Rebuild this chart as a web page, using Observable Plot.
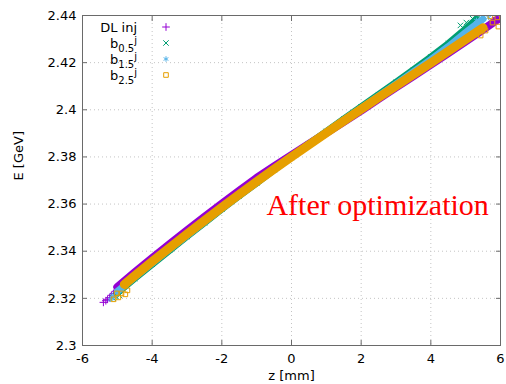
<!DOCTYPE html>
<html><head><meta charset="utf-8">
<script src="https://cdn.jsdelivr.net/npm/d3@7"></script>
<script src="https://cdn.jsdelivr.net/npm/@observablehq/plot@0.6"></script>
<style>body{margin:0;background:#fff;} #chart svg{display:block;}</style>
</head><body><div id="chart"></div><script>
// ---- data ----
const xTicks = [-6, -4, -2, 0, 2, 4, 6];
const xTickLabels = ["-6", "-4", "-2", "0", "2", "4", "6"];
const yTicks = [2.3, 2.32, 2.34, 2.36, 2.38, 2.4, 2.42, 2.44];
const yTickLabels = ["2.3", "2.32", "2.34", "2.36", "2.38", "2.4", "2.42", "2.44"];
const seriesNames = ["DL inj", "b0.5j", "b1.5j", "b2.5j"];
const seriesColors = ["#9400d3", "#009e73", "#56b4e9", "#e69f00"];
const seriesSymbols = ["plus", "times", "asterisk", "square"];

// band centre lines (z [mm], E [GeV])
const dlZ = [-5.0,-4.5,-4.0,-3.5,-3.0,-2.5,-2.0,-1.5,-1.0,-0.5,0,0.5,1,1.5,2,2.5,3,3.5,4,4.5,5,5.5,5.9];
const dlE = [2.3248,2.3310,2.3371,2.3430,2.3488,2.3546,2.3602,2.3657,2.3711,2.3760,2.3808,2.3855,2.3902,2.3949,2.3996,2.4046,2.4095,2.4143,2.4191,2.4240,2.4290,2.4340,2.4381];
const b05Z = [-5.0,-4.5,-4.0,-3.5,-3.0,-2.5,-2.0,-1.5,-1.0,-0.5,0,0.5,1,1.5,2,2.5,3,3.5,4,4.5,5,5.3];
const b05E = [2.3224,2.3285,2.3345,2.3404,2.3463,2.3521,2.3579,2.3635,2.3690,2.3746,2.3800,2.3854,2.3908,2.3960,2.4012,2.4064,2.4116,2.4170,2.4224,2.4280,2.4343,2.4383];
const b15Z = [-5.0,-4.5,-4.0,-3.5,-3.0,-2.5,-2.0,-1.5,-1.0,-0.5,0,0.5,1,1.5,2,2.5,3,3.5,4,4.5,5,5.5];
const b15E = [2.3229,2.3290,2.3350,2.3409,2.3467,2.3525,2.3582,2.3638,2.3693,2.3747,2.3800,2.3853,2.3905,2.3956,2.4007,2.4058,2.4109,2.4161,2.4213,2.4268,2.4328,2.4385];
const b25Z = [-4.8,-4.5,-4.0,-3.5,-3.0,-2.5,-2.0,-1.5,-1.0,-0.5,0,0.5,1,1.5,2,2.5,3,3.5,4,4.5,5,5.5];
const b25E = [2.3259,2.3296,2.3356,2.3415,2.3473,2.3530,2.3586,2.3641,2.3695,2.3748,2.3800,2.3851,2.3902,2.3952,2.4002,2.4052,2.4101,2.4150,2.4199,2.4248,2.4298,2.4348];

// individual particles visible at the ends of the band
const dlPtZ = [-5.40,-5.33,-5.28,-5.22,-5.17,-5.11,-5.05,5.71,5.86,5.97];
const dlPtE = [2.3183,2.3190,2.3196,2.3203,2.3213,2.3221,2.3230,2.4366,2.4392,2.4400];
const b05PtZ = [-5.05,-4.94,-5.12,4.85,5.02,5.20,5.37];
const b05PtE = [2.3209,2.3213,2.3200,2.4358,2.4370,2.4387,2.4398];
const b15PtZ = [-5.20,-5.11,-5.15,5.31,5.48,5.66];
const b15PtE = [2.3196,2.3204,2.3212,2.4379,2.4396,2.4392];
const b25PtZ = [-5.11,-4.97,-4.88,-4.77,-4.71,-5.02,5.43,5.57,5.71,5.77,5.91,5.94];
const b25PtE = [2.3196,2.3204,2.3221,2.3217,2.3234,2.3221,2.4315,2.4336,2.4396,2.4370,2.4392,2.4353];

const annotText = "After optimization";
const annotZ = -0.72;
const annotE = 2.3595;

// ---- build tables ----
const toRows = (zs, es) => zs.map((z, i) => ({z, E: es[i]}));
const lines = [toRows(dlZ, dlE), toRows(b05Z, b05E), toRows(b15Z, b15E), toRows(b25Z, b25E)];
const pts = [toRows(dlPtZ, dlPtE), toRows(b05PtZ, b05PtE), toRows(b15PtZ, b15PtE), toRows(b25PtZ, b25PtE)];
const bandWidths = [8, 7, 7, 9];

const seriesMarks = [];
for (let s = 0; s < 4; s++) {
  seriesMarks.push(Plot.line(lines[s], {x: "z", y: "E", stroke: seriesColors[s], strokeWidth: bandWidths[s], strokeLinecap: "round", strokeLinejoin: "round", clip: true}));
  seriesMarks.push(Plot.dot(lines[s], {x: "z", y: "E", symbol: seriesSymbols[s], r: 2.6, stroke: seriesColors[s], fill: "none", strokeWidth: 1, clip: true}));
  seriesMarks.push(Plot.dot(pts[s], {x: "z", y: "E", symbol: seriesSymbols[s], r: 2.6, stroke: seriesColors[s], fill: "none", strokeWidth: 1, clip: true}));
}

const frameColor = "#6a6a6a";
const plot = Plot.plot({
  width: 506, height: 384,
  marginLeft: 82, marginRight: 6, marginTop: 15, marginBottom: 39,
  style: {fontFamily: "DejaVu Sans", fontSize: "13px", color: "#000", background: "#fff"},
  x: {domain: [-6, 6]},
  y: {domain: [2.3, 2.44]},
  marks: [
    Plot.gridX(xTicks, {stroke: "#c4c4c4", strokeOpacity: 1, strokeDasharray: "1,3"}),
    Plot.gridY(yTicks, {stroke: "#c4c4c4", strokeOpacity: 1, strokeDasharray: "1,3"}),
    ...seriesMarks,
    Plot.text([annotText], {x: () => annotZ, y: () => annotE, text: d => d, fill: "#ff0000", fontFamily: "Liberation Serif", fontSize: 30, textAnchor: "start", lineAnchor: "middle"}),
    Plot.frame({stroke: frameColor}),
    Plot.axisX(xTicks, {anchor: "bottom", tickSize: 5, dy: -5, stroke: frameColor, fill: "none", label: null}),
    Plot.axisX(xTicks, {anchor: "top", tickSize: 5, dy: 5, stroke: frameColor, fill: "none", label: null}),
    Plot.axisY(yTicks, {anchor: "left", tickSize: 5, dx: 5, stroke: frameColor, fill: "none", label: null}),
    Plot.axisY(yTicks, {anchor: "right", tickSize: 5, dx: -5, stroke: frameColor, fill: "none", label: null}),
    Plot.axisX(xTicks, {anchor: "bottom", tickSize: 0, tickPadding: 8, tickFormat: d => xTickLabels[xTicks.indexOf(d)], fontSize: 13, fill: "#000", label: null}),
    Plot.axisY(yTicks, {anchor: "left", tickSize: 0, tickPadding: 6, tickFormat: d => yTickLabels[yTicks.indexOf(d)], fontSize: 13, fill: "#000", label: null}),
    Plot.text(["z [mm]"], {frameAnchor: "bottom", dy: 30, lineAnchor: "middle", text: d => d, fontSize: 13, fill: "#000"}),
    Plot.text(["E [GeV]"], {frameAnchor: "left", dx: -64, rotate: -90, lineAnchor: "middle", text: d => d, fontSize: 13, fill: "#000"})
  ]
});
document.getElementById("chart").appendChild(plot);

// ---- legend (top-left inside the frame) ----
const svg = d3.select(plot);
const leg = svg.append("g").attr("font-family", "DejaVu Sans").attr("font-size", 13).attr("fill", "#000");
const symMap = {plus: d3.symbolPlus, times: d3.symbolTimes, asterisk: d3.symbolAsterisk, square: d3.symbolSquare};
seriesNames.forEach((name, i) => {
  const yBase = 32 + i * 16;
  const t = leg.append("text").attr("x", 137).attr("y", yBase).attr("text-anchor", "end");
  if (i === 0) {
    t.text(name);
  } else {
    t.append("tspan").text(name[0]);
    t.append("tspan").attr("font-size", 10).attr("dy", 4).text(name.slice(1, 4));
    t.append("tspan").attr("font-size", 10).attr("dy", -8).text(name.slice(4));
  }
  leg.append("path")
    .attr("transform", `translate(166,${yBase - 5})`)
    .attr("d", d3.symbol(symMap[seriesSymbols[i]], Math.PI * 2.6 * 2.6)())
    .attr("fill", "none").attr("stroke", seriesColors[i]).attr("stroke-width", 1);
});
</script></body></html>
